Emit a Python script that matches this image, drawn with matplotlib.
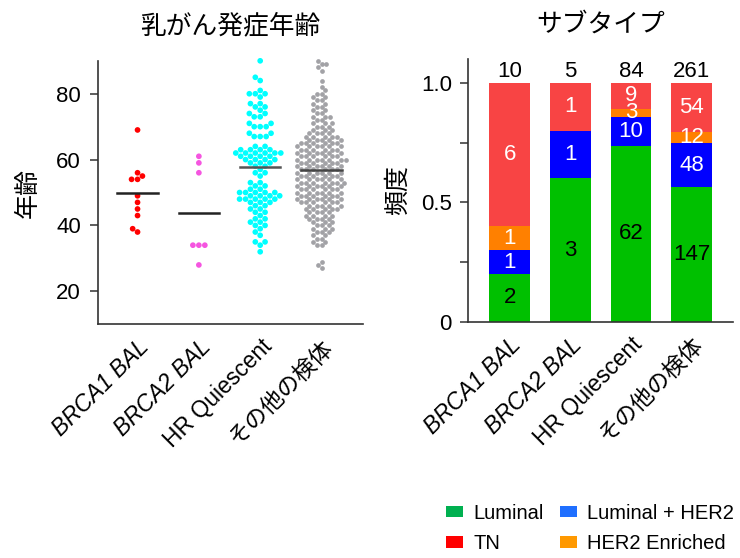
import matplotlib
matplotlib.use("Agg")
import matplotlib.pyplot as plt
from matplotlib.patches import Patch
import numpy as np
import pandas as pd
import seaborn as sns

plt.rcParams['font.family'] = ['Liberation Sans', 'Noto Sans CJK JP', 'DejaVu Sans']

groups = ['BRCA1 BAL', 'BRCA2 BAL', 'HR Quiescent', 'その他の検体']

# ages (age: count)
ages_brca1 = [69, 56, 55, 54, 54, 49, 47, 45, 43, 39, 38]
ages_brca2 = [61, 59, 56, 34, 34, 34, 28]
hr_counts = {90: 1, 85: 1, 84: 1, 81: 1, 80: 3, 79: 1, 77: 2, 76: 2, 75: 1, 74: 2, 73: 2,
             71: 2, 70: 3, 68: 2, 67: 3, 64: 2, 63: 4, 62: 6, 61: 4, 60: 4, 59: 3, 58: 2,
             57: 1, 56: 2, 55: 1, 53: 2, 52: 2, 51: 2, 50: 5, 49: 4, 48: 5, 47: 3, 46: 2,
             45: 2, 44: 2, 43: 1, 42: 2, 41: 2, 40: 2, 39: 1, 38: 1, 37: 1, 35: 2, 34: 1, 32: 1}
other_counts = {90: 1, 89: 2, 88: 1, 87: 1, 84: 1, 82: 1, 81: 1, 80: 2, 79: 2, 78: 2, 77: 2,
                76: 2, 75: 2, 74: 2, 73: 3, 72: 2, 71: 3, 70: 3, 69: 3, 68: 4, 67: 5, 66: 5,
                65: 6, 64: 6, 63: 6, 62: 6, 61: 6, 60: 7, 59: 6, 58: 6, 57: 6, 56: 6, 55: 6,
                54: 6, 53: 7, 52: 6, 51: 6, 50: 6, 49: 6, 48: 6, 47: 6, 46: 5, 45: 5, 44: 4,
                43: 4, 42: 4, 41: 3, 40: 3, 39: 3, 38: 3, 37: 2, 36: 2, 35: 2, 34: 2, 29: 1,
                28: 1, 27: 1}
ages_hr = [a for a, n in hr_counts.items() for _ in range(n)]
ages_other = [a for a, n in other_counts.items() for _ in range(n)]

# subtype counts per group
subtypes = ['Luminal', 'Luminal + HER2', 'HER2 Enriched', 'TN']
luminal = [2, 3, 62, 147]
lum_her2 = [1, 1, 10, 48]
her2 = [1, 0, 3, 12]
tn = [6, 1, 9, 54]

dot_colors = ['#ff0000', '#f555e0', '#00ffff', '#a2a2a6']
mean_colors = ['#222222', '#222222', '#555555', '#444444']
bar_colors = ['#00c000', '#0000ff', '#ff8000', '#f84444']
legend_colors = ['#00b050', '#ff0000', '#1f6fff', '#ff9900']

fig = plt.figure(figsize=(7.4, 5.58), dpi=100)

# ---- left: age swarm ----
ax1 = fig.add_axes([0.132, 0.419, 0.358, 0.472])
all_ages = [ages_brca1, ages_brca2, ages_hr, ages_other]
df = pd.DataFrame({'group': [g for g, a in zip(groups, all_ages) for _ in a],
                   'age': [x for a in all_ages for x in a]})
small = df[df['group'] != groups[3]]
big = df[df['group'] == groups[3]]
sns.swarmplot(data=small, x='group', y='age', hue='group', order=groups, hue_order=groups[:3],
              palette=dot_colors[:3], size=4.1, linewidth=0, legend=False, ax=ax1, clip_on=False)
# the dense group is packed tighter, as in the original
sns.swarmplot(data=big, x='group', y='age', order=groups, color=dot_colors[3],
              size=3.4, linewidth=0, ax=ax1, clip_on=False)
for i, a in enumerate(all_ages):
    m = np.mean(a)
    ax1.plot([i - 0.33, i + 0.33], [m, m], color=mean_colors[i], lw=1.8, zorder=5)
ax1.set_xlim(-0.65, 3.67)
ax1.set_ylim(10, 90)
ax1.set_yticks([20, 40, 60, 80])
ax1.set_xlabel('')
ax1.set_ylabel('年齢', fontsize=18, labelpad=12)
ax1.set_title('乳がん発症年齢', fontsize=18.5, pad=20)

# ---- right: subtype stacked bars ----
ax2 = fig.add_axes([0.633, 0.4235, 0.357, 0.4705])
x = np.arange(len(groups))
totals = np.array(luminal) + np.array(lum_her2) + np.array(her2) + np.array(tn)
bottom = np.zeros(len(groups))
for vals, col in zip([luminal, lum_her2, her2, tn], bar_colors):
    frac = np.array(vals) / totals
    ax2.bar(x, frac, width=0.67, bottom=bottom, color=col, edgecolor='none')
    for i in range(len(groups)):
        if vals[i] > 0:
            ax2.text(x[i], bottom[i] + frac[i] / 2, str(vals[i]), ha='center', va='center',
                     fontsize=16, color='black' if col == bar_colors[0] else 'white')
    bottom += frac
for i in range(len(groups)):
    ax2.text(x[i], 1.005, str(totals[i]), ha='center', va='bottom', fontsize=16)
ax2.set_xlim(-0.68, 3.675)
ax2.set_ylim(0, 1.1)
ax2.set_yticks([0, 0.5, 1.0])
ax2.set_yticklabels(['0', '0.5', '1.0'])
ax2.set_yticks([0.25, 0.75], minor=True)
ax2.set_xticks(x)
ax2.set_ylabel('頻度', fontsize=18, labelpad=8)
ax2.set_title('サブタイプ', fontsize=18.5, pad=20)

for ax in (ax1, ax2):
    for s in ('top', 'right'):
        ax.spines[s].set_visible(False)
    for s in ('left', 'bottom'):
        ax.spines[s].set_color('#333333')
        ax.spines[s].set_linewidth(1.2)
    ax.tick_params(axis='y', which='both', direction='out', length=6, width=1.1,
                   color='#333333', labelsize=16, pad=6)
    ax.tick_params(axis='x', length=0, pad=8)
    ax.set_xticks(range(len(groups)))
    ax.set_xticklabels(groups, rotation=45, ha='right', rotation_mode='anchor', fontsize=16.5)
    for lbl in ax.get_xticklabels()[:2]:
        lbl.set_style('italic')

handles = [Patch(facecolor=c, edgecolor='none') for c in legend_colors]
fig.legend(handles, ['Luminal', 'TN', 'Luminal + HER2', 'HER2 Enriched'], ncol=2,
           loc='upper left', bbox_to_anchor=(0.603, 0.097), frameon=False, fontsize=14.5,
           handlelength=0.85, handleheight=0.5, handletextpad=0.5, columnspacing=0.8,
           labelspacing=0.55, borderpad=0, borderaxespad=0)

fig.savefig('out.png', dpi=100)
